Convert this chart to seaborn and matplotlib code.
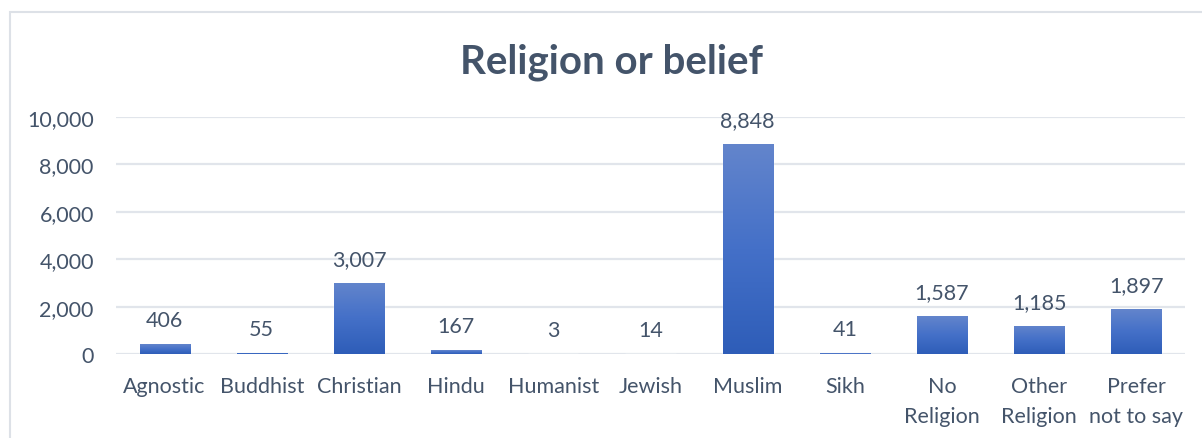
import matplotlib
matplotlib.use("Agg")
import matplotlib.pyplot as plt
import seaborn as sns
import numpy as np
import pandas as pd
from matplotlib.patches import Rectangle
from matplotlib.colors import LinearSegmentedColormap

categories = ["Agnostic", "Buddhist", "Christian", "Hindu", "Humanist", "Jewish",
              "Muslim", "Sikh", "No\nReligion", "Other\nReligion", "Prefer\nnot to say"]
values = [406, 55, 3007, 167, 3, 14, 8848, 41, 1587, 1185, 1897]
yticks = [0, 2000, 4000, 6000, 8000, 10000]
title = "Religion or belief"

sns.set_theme(style="white")
plt.rcParams['font.family'] = ['Lato', 'DejaVu Sans']
TXT = "#44546A"
FS = 15.5

df = pd.DataFrame({"cat": categories, "val": values})

fig = plt.figure(figsize=(12.02, 4.39), dpi=100)
ax = fig.add_axes([116/1202, 1-355/439, (1185-116)/1202, (355-118)/439])

sns.barplot(data=df, x="cat", y="val", ax=ax, color="#4472C4", width=0.515,
            saturation=1, zorder=3)

ax.set_ylim(0, 10000)
ax.set_yticks(yticks)
ax.set_yticklabels([f"{v:,}" for v in yticks])
ax.set_xlim(-0.5, len(categories)-0.5)
ax.set_xlabel("")
ax.set_ylabel("")
for s in ax.spines.values():
    s.set_visible(False)
ax.grid(axis="y", color="#E1E5EB", linewidth=1.6, zorder=0)
ax.set_axisbelow(True)
ax.tick_params(axis="y", length=0, pad=16, labelsize=FS, labelcolor=TXT)
ax.tick_params(axis="x", length=0, pad=16, labelsize=FS, labelcolor=TXT)
for lab in ax.get_xticklabels():
    lab.set_linespacing(1.6)
    lab.set_verticalalignment("top")

# gradient fill for bars
cmap = LinearSegmentedColormap.from_list("g", ["#2E5DB8", "#4470C8", "#6385CC"])
grad = np.linspace(0, 1, 256).reshape(-1, 1)
for p in ax.patches:
    x0, y0 = p.get_x(), p.get_y()
    w, h = p.get_width(), p.get_height()
    if h <= 0:
        continue
    im = ax.imshow(grad, cmap=cmap, aspect="auto", origin="lower",
                   extent=[x0, x0+w, y0, y0+h], zorder=4)
    im.set_clip_path(p)

ax.set_xlim(-0.5, len(categories)-0.5)
ax.set_ylim(0, 10000)

for i, v in enumerate(values):
    ax.annotate(f"{v:,}", (i, v), xytext=(0, 10), textcoords="offset points",
                ha="center", va="bottom", fontsize=FS, color=TXT)

fig.text(612/1202, 1-62/439, title, ha="center", va="center",
         fontsize=29, fontweight="bold", color=TXT)

fig.patches.append(Rectangle((10/1202, -0.1), 1.2, 1-13/439+0.1,
                             transform=fig.transFigure, fill=False,
                             edgecolor="#DDE1E7", linewidth=1.5))

fig.savefig("out.png", dpi=100)
